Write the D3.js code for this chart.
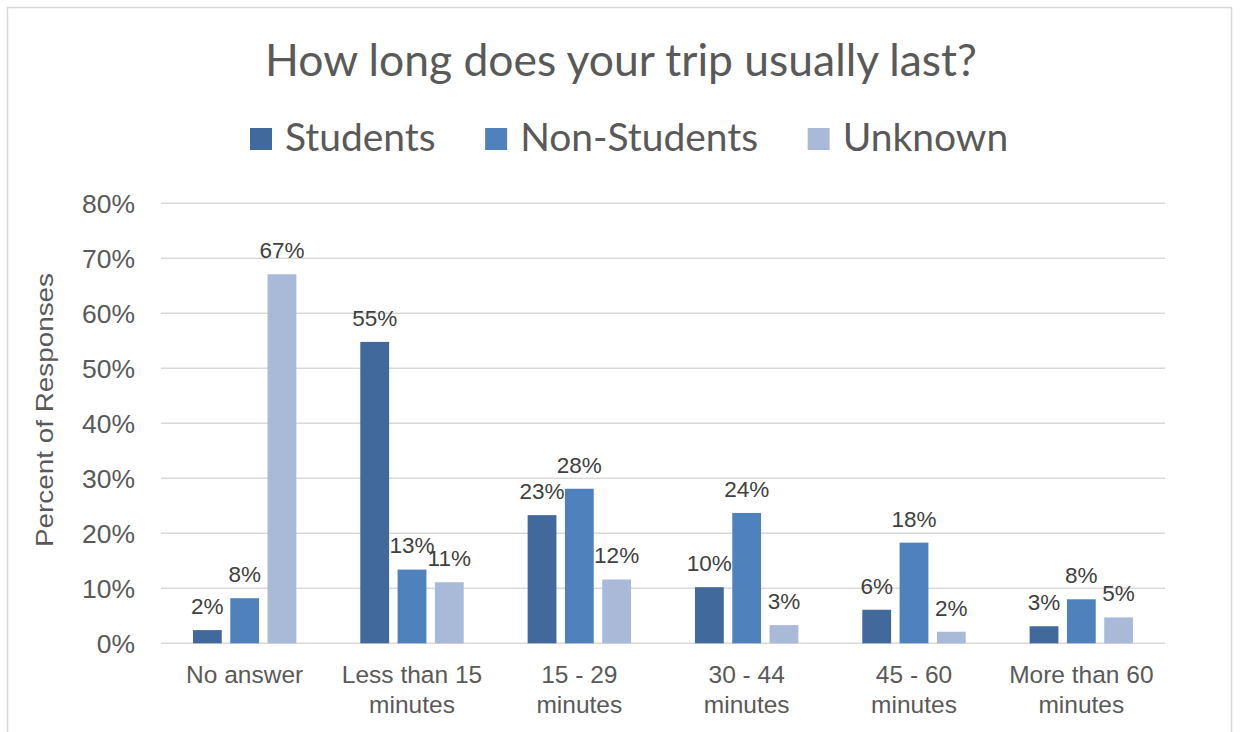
<!DOCTYPE html>
<html>
<head>
<meta charset="utf-8">
<script src="https://cdn.jsdelivr.net/npm/d3@7"></script>
<style>
  html, body { margin: 0; padding: 0; background: #ffffff; }
  svg { display: block; }
</style>
</head>
<body>
<svg id="chart" width="1241" height="732"></svg>
<script>
// ---- data ----
const title = "How long does your trip usually last?";
const categories = ["No answer", "Less than 15 minutes", "15 - 29 minutes", "30 - 44 minutes", "45 - 60 minutes", "More than 60 minutes"];
const seriesNames = ["Students", "Non-Students", "Unknown"];
const students    = [2.4, 54.8, 23.3, 10.2, 6.1, 3.1];
const nonStudents = [8.2, 13.4, 28.1, 23.7, 18.3, 8.0];
const unknown     = [67.1, 11.1, 11.6, 3.3, 2.1, 4.7];
const yTicks = [0, 10, 20, 30, 40, 50, 60, 70, 80];
const yAxisTitle = "Percent of Responses";
const colors = ["#41699C", "#4F81BD", "#A9B9D8"];

const seriesValues = [students, nonStudents, unknown];

const svg = d3.select("#chart");
const W = 1241, H = 732;
const textColor = "#595959";
const titleFont = "Lato, 'Open Sans', sans-serif";
const axisFont = "'Liberation Sans', Arial, sans-serif";

// chart frame
svg.append("rect").attr("x", 7.5).attr("y", 7.5).attr("width", 1224).attr("height", 740)
  .attr("fill", "#ffffff").attr("stroke", "#d9d9d9").attr("stroke-width", 1.5);

// plot area
const plot = { left: 161, right: 1165, top: 203.3, bottom: 643.3 };

const x0 = d3.scaleBand().domain(categories).range([plot.left, plot.right]).paddingInner(0).paddingOuter(0);
const x1 = d3.scaleBand().domain(seriesNames).range([0, x0.bandwidth()]).paddingInner(0.228).paddingOuter(0.857);
const y = d3.scaleLinear().domain([0, 80]).range([plot.bottom, plot.top]);

// helper: fit font size so text reaches a target width
function fitSize(str, family, target) {
  const t = svg.append("text").attr("font-family", family).attr("font-size", 100).text(str);
  const w = t.node().getComputedTextLength();
  t.remove();
  return 100 * target / w;
}

// title
svg.append("text")
  .attr("x", 621).attr("y", 76)
  .attr("text-anchor", "middle")
  .attr("font-family", titleFont)
  .attr("font-size", fitSize(title, titleFont, 712))
  .attr("fill", textColor)
  .text(title);

// legend
const legendFontSize = fitSize(seriesNames.join(""), titleFont, 152 + 237 + 164);
const legendG = svg.append("g");
let lx = 250;
seriesNames.forEach((name, i) => {
  legendG.append("rect").attr("x", lx).attr("y", 128).attr("width", 22).attr("height", 22).attr("fill", colors[i]);
  const t = legendG.append("text").attr("x", lx + 35).attr("y", 151)
    .attr("font-family", titleFont).attr("font-size", legendFontSize).attr("fill", textColor).text(name);
  lx += 35 + t.node().getComputedTextLength() + 49.5;
});

// gridlines
svg.append("g").selectAll("line").data(yTicks).join("line")
  .attr("x1", plot.left).attr("x2", plot.right)
  .attr("y1", d => y(d)).attr("y2", d => y(d))
  .attr("stroke", "#d9d9d9").attr("stroke-width", 1.6);

// y axis labels
const yAxis = d3.axisLeft(y).tickValues(yTicks).tickFormat(d => d + "%").tickSize(0).tickPadding(0);
const yg = svg.append("g").attr("transform", `translate(135,0)`).call(yAxis);
yg.select(".domain").remove();
yg.selectAll("text").attr("font-family", axisFont).attr("font-size", 26.5).attr("fill", textColor).attr("dy", "0.35em");

// y axis title
svg.append("text")
  .attr("transform", "translate(53,410) rotate(-90)")
  .attr("text-anchor", "middle")
  .attr("font-family", axisFont).attr("font-size", 24).attr("fill", textColor)
  .attr("textLength", 274).attr("lengthAdjust", "spacingAndGlyphs")
  .text(yAxisTitle);

// bars
const groups = svg.append("g").selectAll("g").data(categories).join("g")
  .attr("transform", d => `translate(${x0(d)},0)`);

groups.selectAll("rect").data((c, ci) => seriesNames.map((s, si) => ({ s, si, v: seriesValues[si][ci] })))
  .join("rect")
  .attr("x", d => x1(d.s)).attr("width", x1.bandwidth())
  .attr("y", d => y(d.v)).attr("height", d => y(0) - y(d.v))
  .attr("fill", d => colors[d.si]);

// data labels
groups.selectAll("text.val").data((c, ci) => seriesNames.map((s, si) => ({ s, si, v: seriesValues[si][ci] })))
  .join("text").attr("class", "val")
  .attr("x", d => x1(d.s) + x1.bandwidth() / 2)
  .attr("y", d => y(d.v) - 24)
  .attr("dy", "0.35em")
  .attr("text-anchor", "middle")
  .attr("font-family", axisFont).attr("font-size", 22.5).attr("fill", "#404040")
  .text(d => Math.round(d.v) + "%");

// category labels (x axis)
const xAxis = d3.axisBottom(x0).tickSize(0).tickPadding(0).tickFormat("");
const xg = svg.append("g").attr("transform", `translate(0,${plot.bottom})`).call(xAxis);
xg.select(".domain").remove();
xg.selectAll(".tick").each(function(d) {
  const parts = d.split(" minutes");
  const lines = parts.length > 1 ? [parts[0], "minutes"] : [d];
  const t = d3.select(this).append("text")
    .attr("text-anchor", "middle")
    .attr("font-family", axisFont).attr("font-size", 24.5).attr("fill", textColor);
  lines.forEach((ln, i) => {
    t.append("tspan").attr("x", 0).attr("y", 40 + i * 30).text(ln);
  });
});
</script>
</body>
</html>
